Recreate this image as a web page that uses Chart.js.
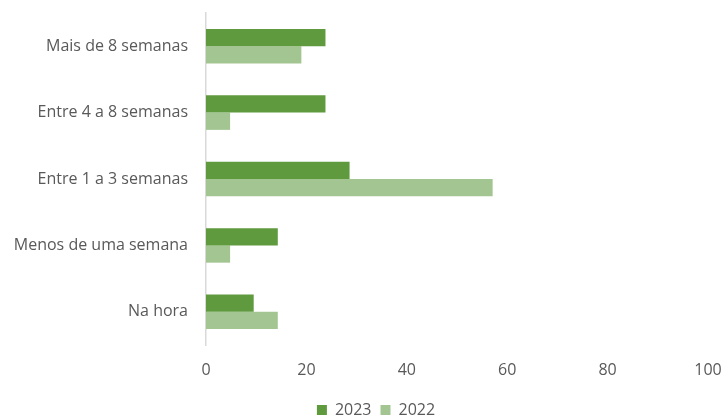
<!DOCTYPE html>
<html>
<head>
<meta charset="utf-8">
<script src="https://cdn.jsdelivr.net/npm/chart.js@4/dist/chart.umd.min.js"></script>
<style>
  html, body { margin: 0; padding: 0; background: #fff; }
  #wrap { width: 725px; height: 417px; }
</style>
</head>
<body>
<div id="wrap"><canvas id="grafico" width="725" height="417"></canvas></div>
<script>
// Dados do gráfico
const categorias = ['Mais de 8 semanas', 'Entre 4 a 8 semanas', 'Entre 1 a 3 semanas', 'Menos de uma semana', 'Na hora'];
const valores2023 = [23.8, 23.8, 28.6, 14.3, 9.5];
const valores2022 = [19.0, 4.8, 57.1, 4.8, 14.3];
const ticksX = [0, 20, 40, 60, 80, 100];

const fonte = "'Open Sans', 'Liberation Sans', sans-serif";
const corTexto = '#595959';

// desloca a legenda para ficar centrada como no original
const moverLegenda = {
    id: 'moverLegenda',
    afterLayout(chart) {
        const lg = chart.legend;
        const dx = 376 - (lg.left + lg.right) / 2;
        lg.left += dx; lg.right += dx;
        lg.top += 11; lg.bottom += 11;
    }
};

new Chart(document.getElementById('grafico'), {
    type: 'bar',
    data: {
        labels: categorias,
        datasets: [
            { label: '2023', data: valores2023, backgroundColor: '#5f9a3e', categoryPercentage: 0.52, barPercentage: 1.0 },
            { label: '2022', data: valores2022, backgroundColor: '#a3c591', categoryPercentage: 0.52, barPercentage: 1.0 }
        ]
    },
    options: {
        indexAxis: 'y',
        responsive: false,
        animation: false,
        layout: { padding: { left: 0, right: 17, top: 13, bottom: 0 } },
        scales: {
            x: {
                min: 0, max: 100,
                afterBuildTicks: (scale) => { scale.ticks = ticksX.map(v => ({ value: v })); },
                grid: { display: false, drawTicks: false },
                border: { display: false },
                ticks: { color: corTexto, font: { family: fonte, size: 16 }, padding: 16 },
                afterFit: (scale) => {
                    scale.height = 37;
                    scale.paddingLeft = 0;
                    scale.paddingRight = 0;
                }
            },
            y: {
                grid: { display: false, drawTicks: false },
                border: { display: true, color: '#d9d9d9', width: 1.5 },
                ticks: { color: corTexto, font: { family: fonte, size: 16 }, padding: 18 },
                afterFit: (scale) => {
                    scale.width = 206;
                    scale.paddingTop = 0;
                    scale.paddingBottom = 0;
                }
            }
        },
        plugins: {
            legend: {
                position: 'bottom',
                labels: { color: corTexto, font: { family: fonte, size: 16 }, boxWidth: 10, boxHeight: 10, padding: 9 }
            },
            tooltip: { enabled: false }
        }
    },
    plugins: [moverLegenda]
});
</script>
</body>
</html>
